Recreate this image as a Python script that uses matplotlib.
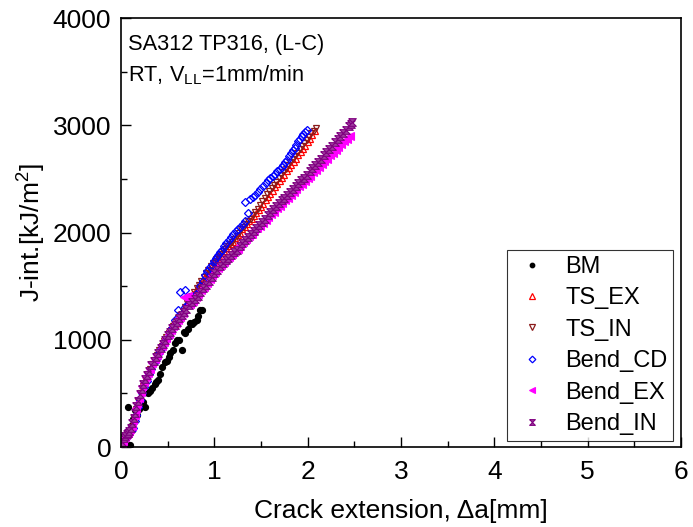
import matplotlib
matplotlib.use('Agg')
import matplotlib.pyplot as plt
from matplotlib.ticker import MultipleLocator

plt.rcParams['font.family'] = ['Liberation Sans', 'DejaVu Sans']
plt.rcParams['mathtext.fontset'] = 'custom'
plt.rcParams['mathtext.rm'] = 'Liberation Sans'
plt.rcParams['mathtext.it'] = 'Liberation Sans'

#---------------------------- data (crack extension [mm], J [kJ/m2])
bm_a = [0.02, 0.05, 0.08, 0.10, 0.11, 0.13, 0.15, 0.17, 0.19, 0.21, 0.24, 0.26, 0.29, 0.31,
        0.33, 0.36, 0.38, 0.40, 0.42, 0.44, 0.47, 0.49, 0.51, 0.53, 0.56, 0.58, 0.60, 0.62,
        0.65, 0.67, 0.69, 0.72, 0.74, 0.76, 0.78, 0.81, 0.83, 0.85, 0.87]
bm_j = [60, 110, 376, 19, 200, 260, 345, 300, 350, 380, 420, 376, 500, 520,
        550, 590, 610, 625, 680, 749, 790, 800, 842, 873, 900, 967, 998, 1000,
        904, 1075, 1060, 1100, 1153, 1150, 1170, 1184, 1220, 1277, 1280]

ts_ex_a = [0.000, 0.025, 0.050, 0.075, 0.100, 0.125, 0.150, 0.175, 0.200, 0.225, 0.250,
           0.275, 0.300, 0.325, 0.350, 0.375, 0.400, 0.425, 0.450, 0.475, 0.500, 0.525,
           0.550, 0.575, 0.600, 0.625, 0.650, 0.675, 0.700, 0.725, 0.750, 0.775, 0.800,
           0.825, 0.850, 0.875, 0.900, 0.925, 0.950, 0.975, 1.000, 1.025, 1.050, 1.075,
           1.100, 1.125, 1.150, 1.175, 1.200, 1.225, 1.250, 1.275, 1.300, 1.325, 1.350,
           1.375, 1.400, 1.425, 1.450, 1.475, 1.500, 1.525, 1.550, 1.575, 1.600, 1.625,
           1.650, 1.675, 1.700, 1.725, 1.750, 1.775, 1.800, 1.825, 1.850, 1.875, 1.900,
           1.925, 1.950, 1.975, 2.000, 2.025, 2.050, 2.075]
ts_ex_j = [20, 60, 100, 125, 150, 230, 310, 390, 470, 540, 600,
           650, 700, 745, 790, 835, 880, 920, 960, 1000, 1040, 1075,
           1110, 1145, 1180, 1215, 1250, 1285, 1320, 1355, 1390, 1425, 1460,
           1495, 1530, 1560, 1590, 1625, 1660, 1695, 1725, 1755, 1780, 1805,
           1830, 1855, 1875, 1895, 1915, 1945, 1975, 2000, 2030, 2055, 2080,
           2105, 2130, 2155, 2180, 2210, 2240, 2270, 2300, 2330, 2360, 2390,
           2420, 2450, 2480, 2510, 2540, 2570, 2600, 2630, 2660, 2690, 2720,
           2750, 2780, 2810, 2840, 2875, 2910, 2950]

ts_in_a = [0.0125, 0.0375, 0.0625, 0.0875, 0.1125, 0.1375, 0.1625, 0.1875, 0.2125, 0.2375,
           0.2625, 0.2875, 0.3125, 0.3375, 0.3625, 0.3875, 0.4125, 0.4375, 0.4625, 0.4875,
           0.5125, 0.5375, 0.5625, 0.5875, 0.6125, 0.6375, 0.6625, 0.6875, 0.7125, 0.7375,
           0.7625, 0.7875, 0.8125, 0.8375, 0.8625, 0.8875, 0.9125, 0.9375, 0.9625, 0.9875,
           1.0125, 1.0375, 1.0625, 1.0875, 1.1125, 1.1375, 1.1625, 1.1875, 1.2125, 1.2375,
           1.2625, 1.2875, 1.3125, 1.3375, 1.3625, 1.3875, 1.4125, 1.4375, 1.4625, 1.4875,
           1.5125, 1.5375, 1.5625, 1.5875, 1.6125, 1.6375, 1.6625, 1.6875, 1.7125, 1.7375,
           1.7625, 1.7875, 1.8125, 1.8375, 1.8625, 1.8875, 1.9125, 1.9375, 1.9625, 1.9875,
           2.0125, 2.0375, 2.0625, 2.085]
ts_in_j = [40, 80, 115, 140, 190, 270, 350, 430, 505, 570,
           630, 680, 725, 770, 815, 860, 900, 945, 985, 1025,
           1060, 1095, 1130, 1165, 1200, 1235, 1270, 1305, 1340, 1375,
           1410, 1445, 1480, 1515, 1550, 1585, 1620, 1655, 1690, 1720,
           1750, 1775, 1800, 1825, 1850, 1870, 1890, 1915, 1940, 1970,
           2000, 2030, 2055, 2080, 2105, 2130, 2160, 2190, 2220, 2255,
           2290, 2325, 2355, 2385, 2415, 2445, 2475, 2505, 2535, 2565,
           2595, 2625, 2655, 2685, 2715, 2745, 2775, 2805, 2835, 2865,
           2895, 2925, 2950, 2975]

cd_a = [0.000, 0.025, 0.050, 0.075, 0.100, 0.115, 0.130, 0.145, 0.160, 0.180, 0.200, 0.225,
        0.250, 0.275, 0.300, 0.325, 0.350, 0.375, 0.400, 0.425, 0.450, 0.475, 0.500, 0.525,
        0.550, 0.580, 0.610, 0.630, 0.690, 0.690, 0.720, 0.750, 0.800, 0.850, 0.875, 0.900,
        0.920, 0.950, 0.970, 1.000, 1.020, 1.040, 1.060, 1.080, 1.100, 1.130, 1.155, 1.180,
        1.205, 1.230, 1.255, 1.280, 1.305, 1.330, 1.360, 1.330, 1.380, 1.410, 1.440, 1.465,
        1.490, 1.520, 1.550, 1.575, 1.600, 1.625, 1.650, 1.675, 1.700, 1.720, 1.740, 1.760,
        1.780, 1.800, 1.820, 1.840, 1.860, 1.880, 1.900, 1.920, 1.940, 1.955, 1.970, 1.990]
cd_j = [20, 50, 80, 110, 140, 160, 180, 240, 300, 370, 440, 500,
        560, 620, 680, 730, 780, 825, 870, 910, 950, 990, 1030, 1070,
        1110, 1184, 1277, 1448, 1464, 1308, 1330, 1360, 1430, 1500, 1550, 1600,
        1640, 1680, 1700, 1730, 1760, 1790, 1815, 1840, 1870, 1900, 1930, 1960,
        1985, 2010, 2030, 2054, 2080, 2110, 2180, 2287, 2310, 2330, 2350, 2380,
        2410, 2435, 2460, 2485, 2510, 2530, 2550, 2570, 2590, 2610, 2630, 2655,
        2680, 2710, 2740, 2765, 2790, 2820, 2850, 2875, 2900, 2920, 2940, 2960]

bend_ex_a = [0.010, 0.025, 0.040, 0.055, 0.070, 0.085, 0.100, 0.115, 0.130, 0.145, 0.160,
             0.175, 0.190, 0.210, 0.230, 0.250, 0.270, 0.290, 0.310, 0.335, 0.360, 0.385,
             0.410, 0.435, 0.460, 0.485, 0.510, 0.535, 0.560, 0.585, 0.610, 0.635, 0.660,
             0.680, 0.700, 0.720, 0.740, 0.770, 0.800, 0.830, 0.860, 0.890, 0.920, 0.950,
             0.980, 1.010, 1.040, 1.070, 1.100, 1.130, 1.160, 1.190, 1.220, 1.250, 1.280,
             1.310, 1.340, 1.370, 1.400, 1.430, 1.460, 1.490, 1.520, 1.550, 1.580, 1.610,
             1.640, 1.670, 1.700, 1.730, 1.760, 1.790, 1.820, 1.850, 1.880, 1.910, 1.940,
             1.970, 2.000, 2.030, 2.060, 2.090, 2.120, 2.150, 2.180, 2.210, 2.240, 2.270,
             2.300, 2.330, 2.360, 2.390, 2.420, 2.450]
bend_ex_j = [30, 60, 90, 110, 130, 145, 165, 200, 250, 300, 360,
             410, 460, 515, 565, 610, 650, 690, 730, 780, 820, 860,
             900, 940, 980, 1020, 1055, 1090, 1125, 1155, 1185, 1215, 1245,
             1400, 1390, 1405, 1330, 1365, 1395, 1425, 1460, 1495, 1530, 1565,
             1600, 1635, 1670, 1700, 1725, 1750, 1775, 1800, 1825, 1850, 1880,
             1910, 1940, 1965, 1990, 2020, 2045, 2065, 2090, 2115, 2140, 2170,
             2195, 2225, 2250, 2275, 2300, 2325, 2350, 2375, 2405, 2430, 2455,
             2480, 2505, 2530, 2560, 2585, 2610, 2640, 2665, 2690, 2720, 2745,
             2770, 2800, 2825, 2850, 2875, 2900]

bend_in_a = [0.000, 0.015, 0.030, 0.045, 0.060, 0.075, 0.090, 0.105, 0.120, 0.135, 0.150,
             0.165, 0.180, 0.200, 0.220, 0.240, 0.260, 0.280, 0.300, 0.325, 0.350, 0.375,
             0.400, 0.425, 0.450, 0.475, 0.500, 0.525, 0.550, 0.575, 0.600, 0.625, 0.650,
             0.675, 0.700, 0.730, 0.760, 0.790, 0.820, 0.850, 0.880, 0.910, 0.940, 0.970,
             1.000, 1.030, 1.060, 1.090, 1.120, 1.150, 1.180, 1.210, 1.240, 1.270, 1.300,
             1.330, 1.360, 1.390, 1.420, 1.450, 1.480, 1.510, 1.540, 1.570, 1.600, 1.630,
             1.660, 1.690, 1.720, 1.750, 1.780, 1.810, 1.840, 1.870, 1.900, 1.930, 1.960,
             1.990, 2.020, 2.050, 2.080, 2.110, 2.140, 2.170, 2.200, 2.230, 2.260, 2.290,
             2.320, 2.350, 2.380, 2.410, 2.440, 2.460, 2.480]
bend_in_j = [20, 50, 80, 100, 120, 135, 150, 180, 220, 270, 320,
             380, 430, 490, 540, 590, 630, 670, 710, 760, 800, 840,
             880, 925, 960, 1000, 1040, 1075, 1110, 1140, 1170, 1200, 1230,
             1260, 1290, 1320, 1350, 1380, 1410, 1445, 1480, 1515, 1550, 1585,
             1620, 1655, 1690, 1715, 1740, 1765, 1790, 1815, 1840, 1870, 1900,
             1930, 1960, 1985, 2010, 2040, 2070, 2100, 2130, 2160, 2190, 2220,
             2250, 2275, 2300, 2325, 2350, 2380, 2410, 2435, 2460, 2485, 2510,
             2540, 2570, 2600, 2630, 2660, 2690, 2720, 2750, 2780, 2810, 2840,
             2870, 2900, 2930, 2960, 2990, 3010, 3030]

#---------------------------- plot
fig = plt.figure(figsize=(6.93, 5.27), dpi=100)
ax = fig.add_axes([0.1746, 0.1518, 0.8081, 0.814])

hourglass = [(-1, 1), (1, 1), (-1, -1), (1, -1), (-1, 1)]

ax.plot(bm_a, bm_j, 'o', color='black', ms=4.2, mec='black', label='BM')
ax.plot(ts_ex_a, ts_ex_j, '^', color='red', ms=5, mfc='none', mew=0.9, label='TS_EX')
ax.plot(ts_in_a, ts_in_j, 'v', color='#8B1A1A', ms=5, mfc='none', mew=0.9, label='TS_IN')
ax.plot(cd_a, cd_j, 'D', color='blue', ms=4.5, mfc='none', mew=0.9, label='Bend_CD')
ax.plot(bend_ex_a, bend_ex_j, '<', color='#FF00FF', ms=5.5, mew=0.8, label='Bend_EX')
ax.plot(bend_in_a, bend_in_j, marker=hourglass, ls='none', color='#800080', ms=5.5,
        mfc='#A040A0', mew=0.8, label='Bend_IN')

ax.set_xlim(0, 6)
ax.set_ylim(0, 4000)
ax.xaxis.set_major_locator(MultipleLocator(1))
ax.xaxis.set_minor_locator(MultipleLocator(0.5))
ax.yaxis.set_major_locator(MultipleLocator(1000))
ax.yaxis.set_minor_locator(MultipleLocator(500))
ax.tick_params(which='both', direction='in', top=False, right=False, labelsize=19, width=1)
ax.tick_params(which='major', length=7)
ax.tick_params(which='minor', length=4)
ax.tick_params(axis='x', which='major', pad=9)
ax.tick_params(axis='y', which='major', pad=7)
for s in ax.spines.values():
    s.set_linewidth(1.2)

ax.set_xlabel('Crack extension, \u0394a[mm]', fontsize=19, labelpad=11)
ax.set_ylabel('J-int.[kJ/m$^2$]', fontsize=19, labelpad=3)

ax.text(0.013, 0.962, 'SA312 TP316, (L-C)', transform=ax.transAxes, fontsize=15.7,
        va='top', ha='left')
ax.text(0.013, 0.895, 'RT, V$_{LL}$=1mm/min', transform=ax.transAxes, fontsize=15.7,
        va='top', ha='left')

leg = ax.legend(loc='lower right', bbox_to_anchor=(0.986, 0.014), borderaxespad=0,
                fontsize=17, frameon=True, fancybox=False, edgecolor='black',
                markerscale=0.75, handlelength=1.6, handletextpad=0.6,
                labelspacing=0.4, borderpad=0.25)
leg.get_frame().set_linewidth(0.8)

plt.savefig('out.png', dpi=100)
